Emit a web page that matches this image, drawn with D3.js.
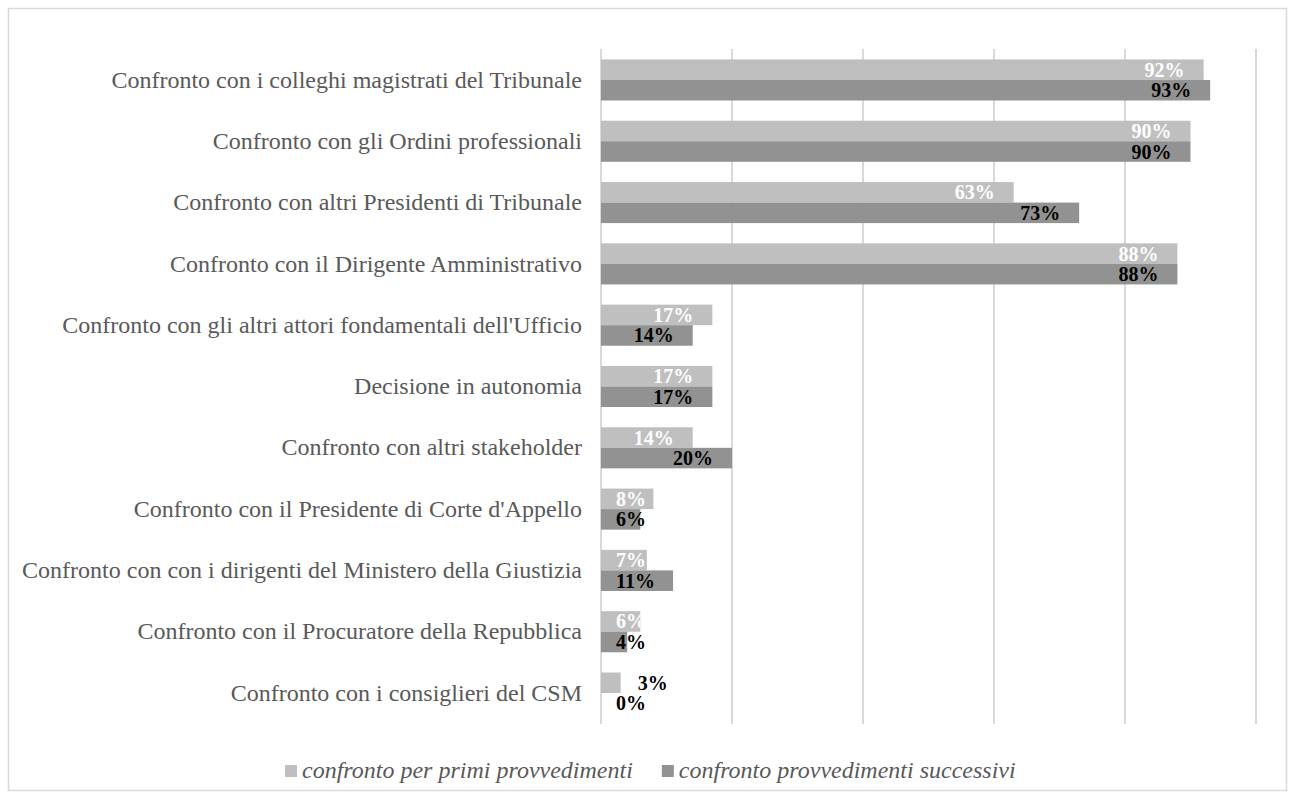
<!DOCTYPE html>
<html>
<head>
<meta charset="utf-8">
<script src="https://cdn.jsdelivr.net/npm/d3@7"></script>
<style>
  body { margin: 0; background: #fff; }
  svg text { font-family: "Liberation Serif", "Times New Roman", serif; }
</style>
</head>
<body>
<div id="chart"></div>
<script>
const categories = [
  'Confronto con i colleghi magistrati del Tribunale',
  'Confronto con gli Ordini professionali',
  'Confronto con altri Presidenti di Tribunale',
  'Confronto con il Dirigente Amministrativo',
  "Confronto con gli altri attori fondamentali dell'Ufficio",
  'Decisione in autonomia',
  'Confronto con altri stakeholder',
  "Confronto con il Presidente di Corte d'Appello",
  'Confronto con con i dirigenti del Ministero della Giustizia',
  'Confronto con il Procuratore della Repubblica',
  'Confronto con i consiglieri del CSM'
];
const primi = [92, 90, 63, 88, 17, 17, 14, 8, 7, 6, 3];
const successivi = [93, 90, 73, 88, 14, 17, 20, 6, 11, 4, 0];
const seriesNames = ['confronto per primi provvedimenti', 'confronto provvedimenti successivi'];
const xTicks = [0, 20, 40, 60, 80, 100];

const width = 1294, height = 799;
const margin = { left: 601, right: 38, top: 49, bottom: 75 };
const colors = ['#bfbfbf', '#929292'];
const labelColors = ['#ffffff', '#000000'];

const svg = d3.select('#chart').append('svg')
  .attr('width', width)
  .attr('height', height);

svg.append('rect')
  .attr('x', 8.5).attr('y', 8.5)
  .attr('width', 1278).attr('height', 782)
  .attr('fill', '#fff')
  .attr('stroke', '#d9d9d9')
  .attr('stroke-width', 1.5);

const x = d3.scaleLinear()
  .domain([0, 100])
  .range([margin.left, width - margin.right]);

const y = d3.scaleBand()
  .domain(categories)
  .range([margin.top, height - margin.bottom])
  .paddingInner(0.33)
  .paddingOuter(0.17);

const ySub = d3.scaleBand()
  .domain([0, 1])
  .range([0, y.bandwidth()]);

// gridlines
svg.append('g')
  .selectAll('line')
  .data(xTicks)
  .join('line')
  .attr('x1', d => x(d)).attr('x2', d => x(d))
  .attr('y1', margin.top).attr('y2', height - margin.bottom)
  .attr('stroke', '#d9d9d9')
  .attr('stroke-width', 2);

// category axis
const yAxis = svg.append('g')
  .attr('transform', `translate(${margin.left},0)`)
  .call(d3.axisLeft(y).tickSize(0).tickPadding(19));
yAxis.select('.domain').remove();
yAxis.selectAll('text')
  .attr('font-size', 24)
  .attr('fill', '#595959')
  .style('font-family', '"Liberation Serif", serif');

const series = [primi, successivi];
const rows = [];
series.forEach((vals, s) => {
  vals.forEach((v, i) => rows.push({ s, v, cat: categories[i] }));
});

svg.append('g')
  .selectAll('rect')
  .data(rows)
  .join('rect')
  .attr('x', x(0))
  .attr('y', d => y(d.cat) + ySub(d.s))
  .attr('width', d => x(d.v) - x(0))
  .attr('height', ySub.bandwidth())
  .attr('fill', d => colors[d.s]);

// data labels
const labels = svg.append('g')
  .selectAll('text')
  .data(rows)
  .join('text')
  .attr('y', d => y(d.cat) + ySub(d.s) + ySub.bandwidth() / 2)
  .attr('dy', '0.35em')
  .attr('font-size', 20)
  .attr('font-weight', 'bold')
  .text(d => d.v + '%');

labels.each(function (d) {
  const w = this.getComputedTextLength();
  const barW = x(d.v) - x(0);
  const sel = d3.select(this);
  if (d.v > 0 && barW < 22) {
    sel.attr('x', x(d.v) + 17).attr('text-anchor', 'start').attr('fill', '#000');
  } else {
    const end = Math.max(x(d.v) - 19, x(0) + 15 + w);
    sel.attr('x', end).attr('text-anchor', 'end').attr('fill', labelColors[d.s]);
  }
});

// legend
const legend = svg.append('g');
let lx = 285;
seriesNames.forEach((name, i) => {
  legend.append('rect')
    .attr('x', lx).attr('y', 765)
    .attr('width', 12).attr('height', 12)
    .attr('fill', colors[i]);
  const t = legend.append('text')
    .attr('x', lx + 17).attr('y', 778)
    .attr('font-size', 24)
    .attr('font-style', 'italic')
    .attr('fill', '#595959')
    .text(name);
  lx += 17 + t.node().getComputedTextLength() + 29;
});
</script>
</body>
</html>
